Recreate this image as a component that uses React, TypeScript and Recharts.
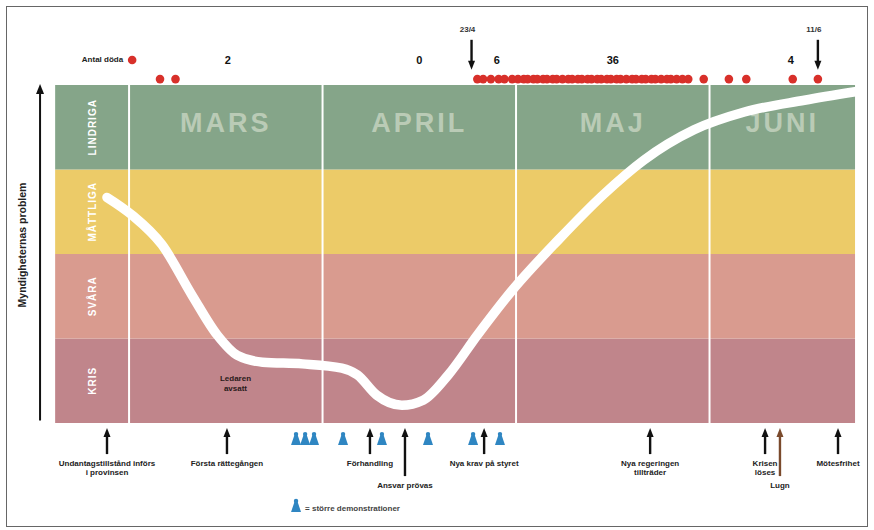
import React from "react";
import {
  ComposedChart, XAxis, YAxis, Line, Scatter,
  ReferenceArea, ReferenceLine,
} from "recharts";

// x unit = months since 1 March (0 = MARS, 1 = APRIL, ...), y unit = crisis level band
const MONTHS = ["MARS", "APRIL", "MAJ", "JUNI"];
const BANDS = ["KRIS", "SVÅRA", "MÅTTLIGA", "LINDRIGA"];
const BAND_COLORS = ["#c0858b", "#d99b8f", "#eccb68", "#85a589"];

// the white curve
const CURVE_T = [-0.114, 0.016, 0.17, 0.326, 0.456, 0.56, 0.69, 0.896, 1.1, 1.18, 1.28, 1.41, 1.52, 1.65, 1.8, 1.98, 2.22, 2.45, 2.66, 2.92, 3.18, 3.49, 3.752];
const CURVE_LEVEL = [2.67, 2.46, 2.11, 1.51, 1.04, 0.8, 0.72, 0.7, 0.65, 0.57, 0.33, 0.21, 0.27, 0.57, 1.04, 1.57, 2.17, 2.7, 3.11, 3.47, 3.68, 3.82, 3.92];

// deaths, one dot each
const MARCH_DEATHS = [0.16, 0.24];
const APRIL_DEATHS = [1.8, 1.83, 1.87, 1.91, 1.94, 1.98];
const MAY_DEATHS = [2.01, 2.04, 2.06, 2.09, 2.11, 2.14, 2.16, 2.19, 2.21, 2.24, 2.27, 2.29, 2.32, 2.34, 2.37, 2.39, 2.42, 2.44, 2.47, 2.49, 2.52, 2.54, 2.57, 2.6, 2.62, 2.65, 2.67, 2.7, 2.72, 2.75, 2.78, 2.8, 2.83, 2.86, 2.89, 2.97];
const JUNE_DEATHS = [3.1, 3.19, 3.43, 3.56];

const COUNT_T = [0.51, 1.5, 1.9, 2.5, 3.42];
const COUNT_LABELS = ["2", "0", "6", "36", "4"];

const TOP_EVENT_T = [1.77, 3.56];
const TOP_EVENT_LABELS = ["23/4", "11/6"];

const EVENT_T = [-0.114, 0.506, 1.245, 1.426, 1.835, 2.693, 3.287, 3.364, 3.664];
const EVENT_LABELS = [
  ["Undantagstillstånd införs", "i provinsen"],
  ["Första rättegången"],
  ["Förhandling"],
  ["Ansvar prövas"],
  ["Nya krav på styret"],
  ["Nya regeringen", "tillträder"],
  ["Krisen", "löses"],
  ["Lugn"],
  ["Mötesfrihet"],
];
const EVENT_LOWER = [false, false, false, true, false, false, false, true, false];

const DEMO_T = [0.863, 0.91, 0.956, 1.106, 1.307, 1.545, 1.778, 1.917];

const FONT = "'Liberation Sans', Arial, sans-serif";
const W = 874;
const H = 530;
const X_DOMAIN = [-0.667, 3.85];
const Y_DOMAIN = [-1.266, 5.006];
const X_LEFT = -0.382;
const X_RIGHT = 3.752;
const DOT_ROW = 4.07;
const COUNT_ROW = 4.296;
const TOP_TIP = 4.18;
const EVENT_TIP = -0.06;
const DEMO_ROW = -0.19;
const AXIS_X = -0.46;

const curveData = CURVE_T.map((t, i) => ({ t, y: CURVE_LEVEL[i] }));
const deathData = [...MARCH_DEATHS, ...APRIL_DEATHS, ...MAY_DEATHS, ...JUNE_DEATHS].map((t) => ({ t, y: DOT_ROW }));
const countData = COUNT_T.map((t, i) => ({ t, y: COUNT_ROW, label: COUNT_LABELS[i] }));
const topEventData = TOP_EVENT_T.map((t, i) => ({ t, y: TOP_TIP, label: TOP_EVENT_LABELS[i] }));
const eventData = EVENT_T.map((t, i) => ({ t, y: EVENT_TIP, lines: EVENT_LABELS[i], lower: EVENT_LOWER[i], brown: i === 7 }));
const demoData = DEMO_T.map((t) => ({ t, y: DEMO_ROW }));

function BandLabel(props: any) {
  const { viewBox, text } = props;
  const cx = viewBox.x + viewBox.width / 2;
  const cy = viewBox.y + viewBox.height / 2;
  return (
    <text x={cx} y={cy} transform={`rotate(-90 ${cx} ${cy})`} textAnchor="middle" dominantBaseline="central"
      fill="#ffffff" fontSize={10} fontWeight="bold" letterSpacing={1} fontFamily={FONT}>
      {text}
    </text>
  );
}

function MonthLabel(props: any) {
  const { viewBox, text } = props;
  const cx = viewBox.x + viewBox.width / 2;
  const cy = viewBox.y + viewBox.height / 2 - 4;
  return (
    <text x={cx} y={cy} textAnchor="middle" dominantBaseline="central" fill="#dfe5d6" fillOpacity={0.6}
      fontSize={27} fontWeight="bold" letterSpacing={3} fontFamily={FONT}>
      {text}
    </text>
  );
}

function Person({ cx, cy, color }: any) {
  return (
    <g fill={color}>
      <circle cx={cx} cy={cy - 5} r={2.2} />
      <path d={`M${cx - 1.6},${cy - 4} L${cx + 1.6},${cy - 4} L${cx + 5},${cy + 6} L${cx - 5},${cy + 6} Z`} />
    </g>
  );
}

function EventArrow(props: any) {
  const { cx, cy, payload } = props;
  const len = payload.lower ? 48 : 26;
  const color = payload.brown ? "#7a4a2c" : "#111";
  return (
    <g>
      <line x1={cx} y1={cy + 5} x2={cx} y2={cy + len} stroke={color} strokeWidth={2.4} />
      <path d={`M${cx - 3.5},${cy + 9} L${cx},${cy} L${cx + 3.5},${cy + 9} Z`} fill={color} />
      {payload.lines.map((l: string, i: number) => (
        <text key={i} x={cx} y={cy + len + 12 + i * 9} textAnchor="middle" fontSize={8} fontWeight="bold"
          fill="#222" fontFamily={FONT}>
          {l}
        </text>
      ))}
    </g>
  );
}

function TopArrow(props: any) {
  const { cx, cy, payload } = props;
  return (
    <g>
      <line x1={cx} y1={cy - 30} x2={cx} y2={cy - 4} stroke="#111" strokeWidth={2.4} />
      <path d={`M${cx - 3.5},${cy - 9} L${cx},${cy} L${cx + 3.5},${cy - 9} Z`} fill="#111" />
      <text x={cx - 4} y={cy - 38} textAnchor="middle" fontSize={8} fontWeight="bold" fill="#333" fontFamily={FONT}>
        {payload.label}
      </text>
    </g>
  );
}

function CountText(props: any) {
  const { cx, cy, payload } = props;
  return (
    <text x={cx} y={cy} textAnchor="middle" dominantBaseline="central" fontSize={11} fontWeight="bold"
      fill="#111" fontFamily={FONT}>
      {payload.label}
    </text>
  );
}

export default function App() {
  return (
    <div style={{ position: "absolute", left: 0, top: 0, width: W, height: H, background: "#fff" }}>
      <div style={{ position: "absolute", left: 6, top: 6, width: 862, height: 521, border: "1.5px solid #666", boxSizing: "border-box" }} />
      <ComposedChart width={W} height={H} margin={{ top: 0, right: 0, bottom: 0, left: 0 }} style={{ position: "absolute", left: 0, top: 0 }}>
        <XAxis type="number" dataKey="t" domain={X_DOMAIN} hide allowDataOverflow />
        <YAxis type="number" dataKey="y" domain={Y_DOMAIN} hide allowDataOverflow />

        {BANDS.map((b, i) => (
          <ReferenceArea key={b} x1={X_LEFT} x2={X_RIGHT} y1={i} y2={i + 1} fill={BAND_COLORS[i]} fillOpacity={1} stroke="none" />
        ))}
        {BANDS.map((b, i) => (
          <ReferenceArea key={"l" + b} x1={X_LEFT} x2={0} y1={i} y2={i + 1} fill="none" stroke="none"
            label={<BandLabel text={b} />} />
        ))}
        {MONTHS.map((m, i) => (
          <ReferenceArea key={m} x1={i} x2={Math.min(i + 1, X_RIGHT)} y1={3} y2={4} fill="none" stroke="none"
            label={<MonthLabel text={m} />} />
        ))}
        {MONTHS.map((m, i) => (
          <ReferenceLine key={"s" + m} segment={[{ x: i, y: 0 }, { x: i, y: 4 }]} stroke="#ffffff" strokeWidth={2} />
        ))}

        {/* y-axis arrow */}
        <ReferenceLine segment={[{ x: AXIS_X, y: 0.03 }, { x: AXIS_X, y: 3.96 }]} stroke="#111" strokeWidth={2} />
        <Scatter
          data={[{ t: AXIS_X, y: 4.0 }]}
          isAnimationActive={false}
          shape={(p: any) => (
            <g>
              <path d={`M${p.cx - 4},${p.cy + 9} L${p.cx},${p.cy - 1} L${p.cx + 4},${p.cy + 9} Z`} fill="#111" />
              <text x={p.cx - 18} y={p.cy + 160} transform={`rotate(-90 ${p.cx - 18} ${p.cy + 160})`} textAnchor="middle"
                dominantBaseline="central" fontSize={10.5} fontWeight="bold" fill="#222" fontFamily={FONT}>
                Myndigheternas problem
              </text>
            </g>
          )}
        />

        <Line data={curveData} dataKey="y" type="monotone" stroke="#ffffff" strokeWidth={9.5} strokeLinecap="round"
          dot={false} activeDot={false} isAnimationActive={false} />

        <Scatter data={deathData} isAnimationActive={false}
          shape={(p: any) => <circle cx={p.cx} cy={p.cy} r={4.3} fill="#d8302a" />} />
        <Scatter
          data={[{ t: 0.016, y: COUNT_ROW }]}
          isAnimationActive={false}
          shape={(p: any) => (
            <g>
              <circle cx={p.cx} cy={p.cy} r={4.3} fill="#d8302a" />
              <text x={p.cx - 9} y={p.cy} textAnchor="end" dominantBaseline="central" fontSize={8} fontWeight="bold"
                fill="#222" fontFamily={FONT}>
                Antal döda
              </text>
            </g>
          )}
        />
        <Scatter data={countData} isAnimationActive={false} shape={(p: any) => <CountText {...p} />} />
        <Scatter data={topEventData} isAnimationActive={false} shape={(p: any) => <TopArrow {...p} />} />
        <Scatter data={demoData} isAnimationActive={false} shape={(p: any) => <Person cx={p.cx} cy={p.cy} color="#2f86c2" />} />
        <Scatter data={eventData} isAnimationActive={false} shape={(p: any) => <EventArrow {...p} />} />
        <Scatter
          data={[{ t: 0.55, y: 0.45 }]}
          isAnimationActive={false}
          shape={(p: any) => (
            <g fontSize={8} fontWeight="bold" fill="#2a1a1a" fontFamily={FONT}>
              <text x={p.cx} y={p.cy - 4} textAnchor="middle">Ledaren</text>
              <text x={p.cx} y={p.cy + 6} textAnchor="middle">avsatt</text>
            </g>
          )}
        />
        {/* legend */}
        <Scatter
          data={[{ t: 0.863, y: -0.982 }]}
          isAnimationActive={false}
          shape={(p: any) => (
            <g>
              <Person cx={p.cx} cy={p.cy} color="#2f86c2" />
              <text x={p.cx + 9} y={p.cy + 2} dominantBaseline="central" fontSize={8} fontWeight="bold" fill="#444"
                fontFamily={FONT}>
                = större demonstrationer
              </text>
            </g>
          )}
        />
      </ComposedChart>
    </div>
  );
}
